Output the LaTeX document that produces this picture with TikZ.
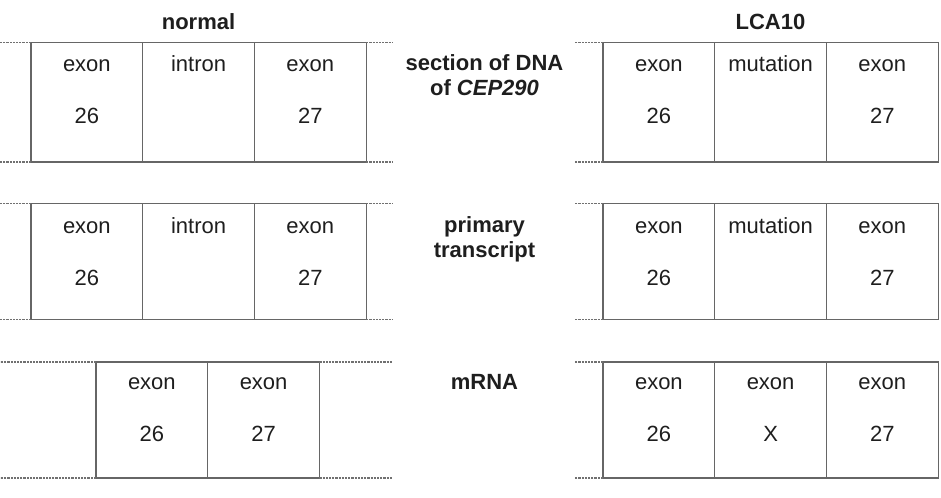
\documentclass[tikz,border=0pt]{standalone}
\usepackage{fontspec}
\setmainfont{Liberation Sans}
\usetikzlibrary{calc}
\definecolor{boxline}{HTML}{666666}
\definecolor{dotline}{HTML}{707070}
\definecolor{txt}{HTML}{1E1E1E}
\begin{document}
\begin{tikzpicture}[x=0.75pt,y=-0.75pt,
  cell/.style={draw=boxline, line width=1pt, minimum width=83.8pt, minimum height=#1, inner sep=0pt, outer sep=0pt, anchor=north west},
  lab/.style={anchor=base, font=\fontsize{16.5}{18.75}\selectfont, text=txt, inner sep=0pt, align=center},
  ttl/.style={anchor=base, font=\bfseries\fontsize{16.5}{18.75}\selectfont, text=txt, inner sep=0pt, align=center},
  dots/.style={draw=dotline, line width=0.9pt, dash pattern=on 1.6pt off 0.8pt}]
\useasboundingbox (0,0) rectangle (941,497);

% row 1
\node[cell=89.6pt] (a1) at (31,42.5) {};
\node[cell=89.6pt] (a2) at (a1.north east) {};
\node[cell=89.6pt] (a3) at (a2.north east) {};
\node[cell=89.6pt] (b1) at (603,42.5) {};
\node[cell=89.6pt] (b2) at (b1.north east) {};
\node[cell=89.6pt] (b3) at (b2.north east) {};
% row 2
\node[cell=87pt] (c1) at (31,203.5) {};
\node[cell=87pt] (c2) at (c1.north east) {};
\node[cell=87pt] (c3) at (c2.north east) {};
\node[cell=87pt] (d1) at (603,203.5) {};
\node[cell=87pt] (d2) at (d1.north east) {};
\node[cell=87pt] (d3) at (d2.north east) {};
% row 3
\node[cell=87pt] (e1) at (96,362) {};
\node[cell=87pt] (e2) at (e1.north east) {};
\node[cell=87pt] (f1) at (603,362) {};
\node[cell=87pt] (f2) at (f1.north east) {};
\node[cell=87pt] (f3) at (f2.north east) {};

% dotted continuations
\foreach \r/\s in {a1/a3, c1/c3, e1/e2}{
  \draw[dots] (\r.north west) -- ($(\r.north west-|0,0)$);
  \draw[dots] (\r.south west) -- ($(\r.south west-|0,0)$);
  \draw[dots] (\s.north east) -- ($(\s.north east-|393,0)$);
  \draw[dots] (\s.south east) -- ($(\s.south east-|393,0)$);
}
\foreach \r in {b1, d1, f1}{
  \draw[dots] (\r.north west) -- ($(\r.north west-|575,0)$);
  \draw[dots] (\r.south west) -- ($(\r.south west-|575,0)$);
}

% titles
\node[ttl] (tnormal) at (198.5,29) {normal};
\node[ttl] (tlca) at (770.5,29) {LCA10};
\node[ttl] (tdna) at (484.5,95) {section of DNA\\of \textit{CEP290}};
\node[ttl] (tprim) at (484.5,257) {primary\\transcript};
\node[ttl] (tmrna) at (484.5,389) {mRNA};

% cell labels
\foreach \c/\t/\n/\o in {a1/exon/26/28.5, a2/intron//28.5, a3/exon/27/28.5,
                       b1/exon/26/28.5, b2/mutation//28.5, b3/exon/27/28.5,
                       c1/exon/26/29.5, c2/intron//29.5, c3/exon/27/29.5,
                       d1/exon/26/29.5, d2/mutation//29.5, d3/exon/27/29.5,
                       e1/exon/26/27.5, e2/exon/27/27.5,
                       f1/exon/26/27.5, f2/exon/X/27.5, f3/exon/27/27.5}{
  \node[lab] (\c t) at ($(\c.north)+(0,\o)$) {\t};
  \node[lab] (\c n) at ($(\c.north)+(0,\o+52)$) {\n};
}
\end{tikzpicture}
\end{document}
